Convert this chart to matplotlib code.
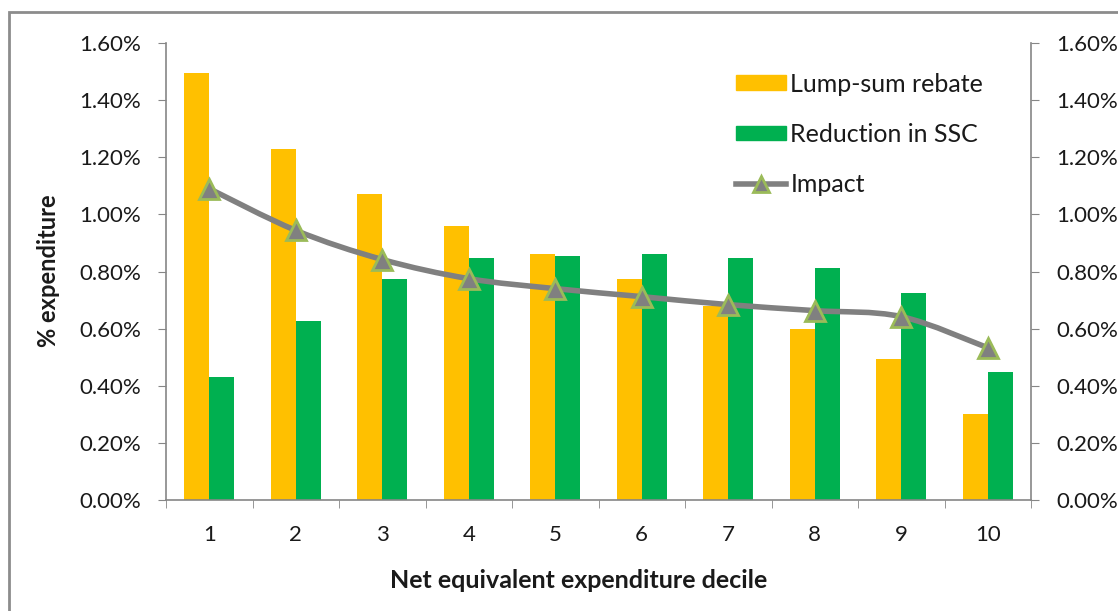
import matplotlib
matplotlib.use("Agg")
import matplotlib.pyplot as plt
import numpy as np
from matplotlib.path import Path
from matplotlib.patches import PathPatch, Rectangle
from matplotlib.ticker import FuncFormatter, MultipleLocator
from matplotlib.lines import Line2D

plt.rcParams['font.family'] = ['Lato', 'DejaVu Sans']

deciles = ["1", "2", "3", "4", "5", "6", "7", "8", "9", "10"]
lump_sum = [1.495, 1.228, 1.070, 0.961, 0.863, 0.775, 0.680, 0.600, 0.495, 0.302]
ssc = [0.432, 0.628, 0.772, 0.846, 0.856, 0.860, 0.846, 0.814, 0.723, 0.449]
impact = [1.090, 0.944, 0.842, 0.775, 0.740, 0.712, 0.684, 0.663, 0.642, 0.533]

W, H = 1118, 611
fig = plt.figure(figsize=(W / 100, H / 100), dpi=100)
ax = fig.add_axes([166 / W, 1 - 500 / H, (1031 - 166) / W, (500 - 43) / H])

orange = "#FFC000"
green = "#00B050"
grey = "#868686"
txt = "#1a1a1a"

x = np.arange(len(deciles))
bw = 0.29
ax.bar(x - bw / 2, lump_sum, bw, color=orange, zorder=2)
ax.bar(x + bw / 2, ssc, bw, color=green, zorder=2)

# smoothed line (Catmull-Rom style Bezier through the data points)
pts = np.column_stack([x, impact]).astype(float)
verts = [tuple(pts[0])]
codes = [Path.MOVETO]
t = 1 / 6
for i in range(len(pts) - 1):
    p0 = pts[i - 1] if i > 0 else pts[i]
    p1 = pts[i]
    p2 = pts[i + 1]
    p3 = pts[i + 2] if i + 2 < len(pts) else pts[i + 1]
    c1 = p1 + (p2 - p0) * t
    c2 = p2 - (p3 - p1) * t
    verts += [tuple(c1), tuple(c2), tuple(p2)]
    codes += [Path.CURVE4] * 3
ax.add_patch(PathPatch(Path(verts, codes), facecolor="none", edgecolor="#808080",
                       lw=4, zorder=3, capstyle="round"))
ax.plot(x, impact, linestyle="none", marker="^", markersize=14,
        markerfacecolor="#808080", markeredgecolor="#9BBB59", markeredgewidth=2, zorder=4)

ax.set_xlim(-0.5, len(deciles) - 0.5)
ax.set_ylim(0, 1.6)
ax.yaxis.set_major_locator(MultipleLocator(0.2))
fmt = FuncFormatter(lambda v, p: f"{v:.2f}%")
ax.yaxis.set_major_formatter(fmt)
ax.set_xticks(x)
ax.set_xticklabels(deciles)
ax.set_xticks(np.arange(len(deciles) + 1) - 0.5, minor=True)
ax.tick_params(axis="x", which="major", length=0, pad=18, labelsize=16, labelcolor=txt)
ax.tick_params(axis="x", which="minor", length=6, color=grey, direction="out")
ax.tick_params(axis="y", length=6, color=grey, labelsize=16, labelcolor=txt, pad=12)

for s in ["top", "right"]:
    ax.spines[s].set_visible(False)
for s in ["left", "bottom"]:
    ax.spines[s].set_color(grey)
    ax.spines[s].set_linewidth(1.2)

ax2 = ax.twinx()
ax2.set_ylim(0, 1.6)
ax2.yaxis.set_major_locator(MultipleLocator(0.2))
ax2.yaxis.set_major_formatter(fmt)
ax2.tick_params(axis="y", length=6, color=grey, labelsize=16, labelcolor=txt, pad=12)
for s in ["top", "left", "bottom"]:
    ax2.spines[s].set_visible(False)
ax2.spines["right"].set_color(grey)
ax2.spines["right"].set_linewidth(1.2)

ax.set_ylabel("% expenditure", fontsize=17, fontweight="bold", color=txt)
ax.set_xlabel("Net equivalent expenditure decile", fontsize=18, fontweight="bold", color=txt)
ax.xaxis.set_label_coords((579 - 166) / 865, (500 - 580) / 457)
ax.xaxis.label.set_va("center")
ax.yaxis.set_label_coords((48 - 166) / 865, (500 - 271) / 457)
ax.yaxis.label.set_va("center")

handles = [
    Rectangle((0, 0), 1, 1, color=orange),
    Rectangle((0, 0), 1, 1, color=green),
    Line2D([], [], color="#808080", lw=4, marker="^", markersize=12,
           markerfacecolor="#808080", markeredgecolor="#9BBB59", markeredgewidth=2),
]
leg = ax2.legend(handles, ["Lump-sum rebate", "Reduction in SSC", "Impact"],
                 loc="upper left", bbox_to_anchor=((713 - 166) / 865, 1 - (50 - 43) / 457),
                 frameon=False, fontsize=18, labelspacing=1.09, handlelength=2.0,
                 handletextpad=0.2, handleheight=0.52)
for tx in leg.get_texts():
    tx.set_color(txt)

# outer chart border
fig.patches.append(Rectangle((8.5 / W, -0.1), 1.2, 1 - 11.5 / H + 0.1, transform=fig.transFigure,
                             facecolor="none", edgecolor="#8c8c8c", lw=2, zorder=0))

fig.savefig("out.png", dpi=100)
